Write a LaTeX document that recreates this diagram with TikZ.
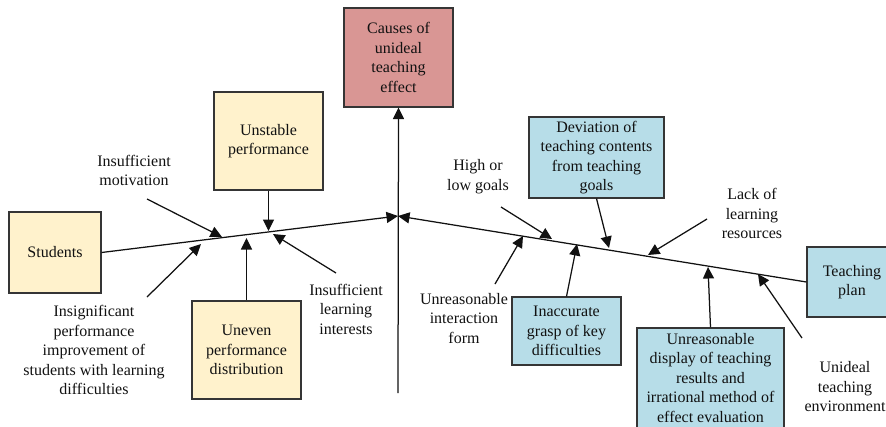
\documentclass[tikz,border=0pt]{standalone}
\usepackage{fontspec}
\setmainfont{Liberation Serif}
\usetikzlibrary{arrows.meta}
\definecolor{causefill}{HTML}{D99694}
\definecolor{studfill}{HTML}{FFF2CC}
\definecolor{planfill}{HTML}{B7DDE8}
\definecolor{ink}{HTML}{111111}

\begin{document}
\begin{tikzpicture}[x=1pt,y=-1pt,
  txt/.style={font=\fontsize{16}{19.5}\selectfont, text=ink, align=center, inner sep=0pt},
  box/.style={txt, draw=ink!85, line width=1.1pt, rectangle, anchor=center},
  arr/.style={draw=ink, line width=1.25pt, -{Triangle[length=11.5pt,width=11pt]}}
]
\useasboundingbox (0,0) rectangle (886,426);

% effect (head of the fishbone)
\node[box, fill=causefill, minimum width=109pt, minimum height=99pt] (causes) at (398.5,57.5) {Causes of\\unideal\\teaching\\effect};

% student branch
\node[box, fill=studfill, minimum width=92pt, minimum height=81pt] (students) at (55,252.5) {Students};
\node[box, fill=studfill, minimum width=109pt, minimum height=98pt] (unstable) at (268.5,141) {Unstable\\performance};
\node[box, fill=studfill, minimum width=109pt, minimum height=98pt] (uneven) at (246.5,350) {Uneven\\performance\\distribution};
\node[txt] (lmot) at (134,170.5) {Insufficient\\motivation};
\node[txt] (linsig) at (94,350) {Insignificant\\performance\\improvement of\\students with learning\\difficulties};
\node[txt] (lint) at (346,309) {Insufficient\\learning\\interests};

% teaching plan branch
\node[box, fill=planfill, minimum width=90pt, minimum height=70pt] (plan) at (852,282) {Teaching\\plan};
\node[box, fill=planfill, minimum width=135pt, minimum height=81pt] (deviation) at (596.5,157.5) {Deviation of\\teaching contents\\from teaching\\goals};
\node[box, fill=planfill, minimum width=109pt, minimum height=68pt] (inaccurate) at (566.5,331) {Inaccurate\\grasp of key\\difficulties};
\node[box, fill=planfill, minimum width=147pt, minimum height=100pt] (display) at (710.5,378) {Unreasonable\\display of teaching\\results and\\irrational method of\\effect evaluation};
\node[txt] (lgoals) at (478,176.5) {High or\\low goals};
\node[txt] (lres) at (752,213.5) {Lack of\\learning\\resources};
\node[txt] (linter) at (464,318.5) {Unreasonable\\interaction\\form};
\node[txt] (lenv) at (845,387) {Unideal\\teaching\\environment};

% junction and free ends of the bones
\coordinate (j) at (398,216);
\coordinate (vb) at (398,393);
\coordinate (tmot) at (147,199);   \coordinate (hmot) at (222,237);
\coordinate (tinsig) at (147,297); \coordinate (hinsig) at (201,244);
\coordinate (tint) at (336,273);   \coordinate (hint) at (273,234);
\coordinate (hunst) at (268.5,231);
\coordinate (huneven) at (246.5,238);
\coordinate (tgoals) at (501,207); \coordinate (hgoals) at (552,239);
\coordinate (hdev) at (609,248);
\coordinate (tres) at (707,219);   \coordinate (hres) at (648,255);
\coordinate (tinter) at (495,284); \coordinate (hinter) at (523,236);
\coordinate (hinacc) at (577,244);
\coordinate (hdisp) at (708,267);
\coordinate (tenv) at (802,338);   \coordinate (henv) at (758,274);

% spines
\draw[arr] (students.east) -- (j);
\draw[arr] (plan.west) -- (j);
\draw[arr] (vb) -- (causes.south);

% student bones
\draw[arr] (tmot) -- (hmot);
\draw[arr] (tinsig) -- (hinsig);
\draw[arr] (tint) -- (hint);
\draw[arr] (unstable.south) -- (hunst);
\draw[arr] (uneven.north) -- (huneven);

% teaching plan bones
\draw[arr] (tgoals) -- (hgoals);
\draw[arr] (deviation.south) -- (hdev);
\draw[arr] (tres) -- (hres);
\draw[arr] (tinter) -- (hinter);
\draw[arr] (inaccurate.north) -- (hinacc);
\draw[arr] (display.north) -- (hdisp);
\draw[arr] (tenv) -- (henv);
\end{tikzpicture}
\end{document}
